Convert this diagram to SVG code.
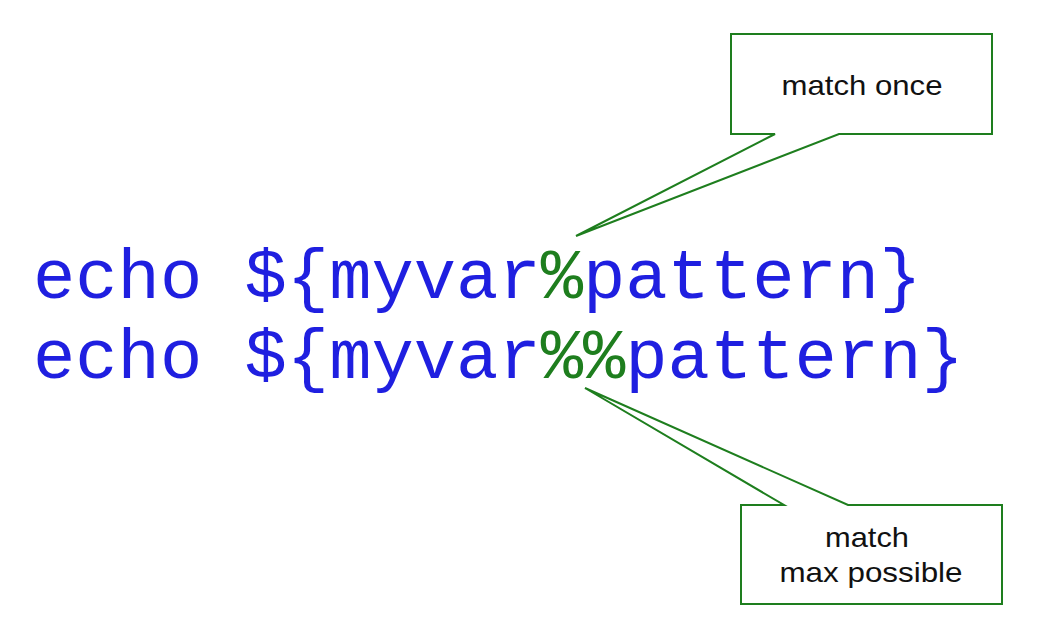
<svg xmlns="http://www.w3.org/2000/svg" width="1040" height="633" viewBox="0 0 1040 633">
<style>
.code{font-family:"Liberation Mono","DejaVu Sans Mono",monospace;font-size:70.5px;fill:#1f1fe0}
.pct{fill:#1e7e1e}
.call{fill:#fff;stroke:#1e7e1e;stroke-width:2;stroke-linejoin:miter}
.lbl{font-family:"Liberation Sans",Arial,sans-serif;font-size:28px;fill:#111;text-anchor:middle}
</style>
<rect width="1040" height="633" fill="#fff"/>
<g id="code">
<text class="code" x="33" y="298">echo ${myvar<tspan class="pct">%</tspan>pattern}</text>
<text class="code" x="33" y="378">echo ${myvar<tspan class="pct">%%</tspan>pattern}</text>
</g>
<g id="connectors"></g>
<g id="callout-once">
<path class="call" d="M731,34 H992 V134 H839 L576,236 L775,134 H731 Z"/>
<text class="lbl" x="862" y="95" textLength="161" lengthAdjust="spacingAndGlyphs">match once</text>
</g>
<g id="callout-max">
<path class="call" d="M741,505 H784 L585,388 L848,505 H1002 V604 H741 Z"/>
<text class="lbl" x="867" y="547" textLength="84" lengthAdjust="spacingAndGlyphs">match</text>
<text class="lbl" x="871" y="582" textLength="183" lengthAdjust="spacingAndGlyphs">max possible</text>
</g>
</svg>
